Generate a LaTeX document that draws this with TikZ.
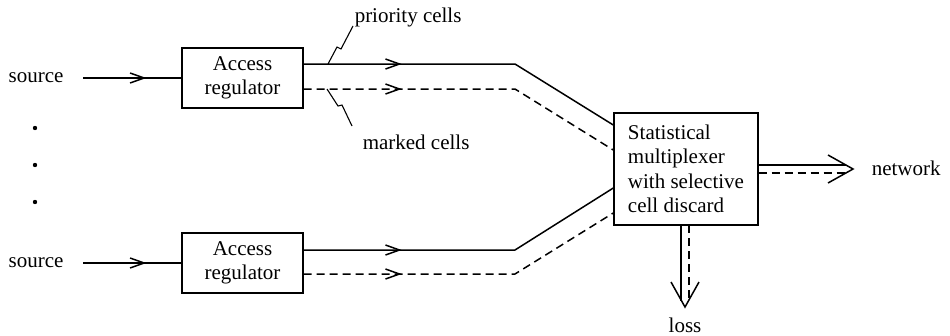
\documentclass[tikz,border=0pt]{standalone}
\usepackage{fontspec}
\setmainfont{Liberation Serif}
\usetikzlibrary{arrows.meta,decorations.markings}
\begin{document}
\begin{tikzpicture}[x=1pt,y=-1pt, line width=1.5pt,
  every node/.style={font=\fontsize{21}{24.5}\selectfont, inner sep=0pt},
  regbox/.style={draw, line width=1.4pt, minimum width=121pt, minimum height=60pt, align=center},
  muxbox/.style={draw, line width=1.4pt, minimum width=144pt, minimum height=112pt, align=left},
  dsh/.style={dash pattern=on 8pt off 5pt},
  leader/.style={line width=1.1pt},
  midarrow/.style={postaction={decorate, decoration={markings, mark=at position #1 with {\arrow{Straight Barb[length=14pt,width=10pt]}}}}},
]
\useasboundingbox (0,0) rectangle (950,335);

% nodes
\node[regbox] (r1) at (242.5,78) {Access\\regulator};
\node[regbox] (r2) at (242.5,263) {Access\\regulator};
\node[muxbox] (mux) at (686,169) {Statistical\\multiplexer\\with selective\\cell discard};
\node[anchor=west] (s1) at (8,78) {source};
\node[anchor=west] (s2) at (8,263) {source};
\node[anchor=west] (pc) at (354,17) {priority cells};
\node[anchor=west] (mc) at (362,142) {marked cells};
\node[anchor=west] (net) at (871,168) {network};
\node (loss) at (685,325) {loss};

% dots
\fill (35,128) circle (2.2pt);
\fill (35,165) circle (2.2pt);
\fill (35,202) circle (2.2pt);

% corner coordinates
\coordinate (c1) at (515,64);
\coordinate (c2) at (515,89);
\coordinate (c3) at (515,250);
\coordinate (c4) at (515,274);

% source inputs
\draw[midarrow=63pt] ([xshift=19pt]s1.east |- r1.west) -- (r1.west);
\draw[midarrow=63pt] ([xshift=19pt]s2.east |- r2.west) -- (r2.west);

% channels
\draw[midarrow=98pt] ([yshift=14pt]r1.east) -- (c1) -- ([yshift=44pt]mux.west);
\draw[dsh, midarrow=98pt] ([yshift=-11pt]r1.east) -- (c2) -- ([yshift=19pt]mux.west);
\draw[midarrow=98pt] ([yshift=13pt]r2.east) -- (c3) -- ([yshift=-19pt]mux.west);
\draw[dsh, midarrow=98pt] ([yshift=-11pt]r2.east) -- (c4) -- ([yshift=-44pt]mux.west);

% network output
\coordinate (ntip) at (853,169);
\coordinate (na1) at (828,155);
\coordinate (na2) at (828,183);
\draw ([yshift=4pt]mux.east) -- (846,165);
\draw[dsh] ([yshift=-4pt]mux.east) -- (846,173);
\draw (na1) -- (ntip) -- (na2);

% loss output
\coordinate (ltip) at (685,307);
\coordinate (la1) at (671,282);
\coordinate (la2) at (699,282);
\draw (681,225) -- (681,301);
\draw[dsh] (689,225) -- (689,301);
\draw (la1) -- (ltip) -- (la2);

% leaders
\draw[leader] (328,64) -- (337,47) -- (341,49) -- (353,26);
\draw[leader] (327,89) -- (338,106) -- (342,105) -- (352,126);
\end{tikzpicture}
\end{document}
